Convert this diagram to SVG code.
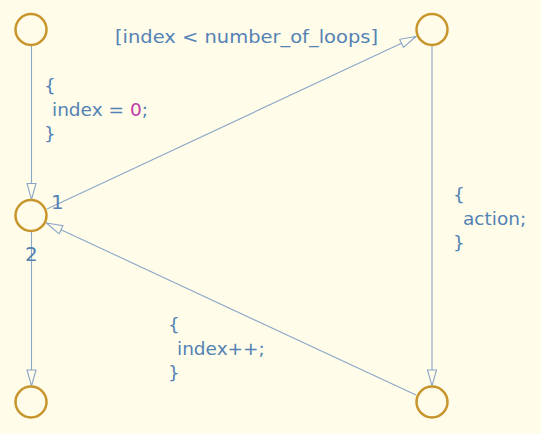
<svg xmlns="http://www.w3.org/2000/svg" width="541" height="434" viewBox="0 0 541 434">
<style>
.st{fill:#fffcea;stroke:#c8952c;stroke-width:2.5}
.cn{fill:none;stroke:#8aa6c8;stroke-width:1.1}
.t{font-family:"DejaVu Sans","Liberation Sans",sans-serif;font-size:18.5px;fill:#5382b4}
.n{fill:#c03aa6}
.lb{font-family:"DejaVu Sans","Liberation Sans",sans-serif;font-size:20px;fill:#5382b4}
</style>
<defs>
<marker id="ar" markerUnits="userSpaceOnUse" markerWidth="20" markerHeight="12" refX="17" refY="5" orient="auto" viewBox="0 0 20 12">
<path d="M1,0.5 L17,5 L1,9.5 Z" fill="#fffcea" stroke="#8aa6c8" stroke-width="1.1"/>
</marker>
</defs>
<rect x="0" y="0" width="541" height="434" fill="#fffcea"/>
<g id="connectors">
<line class="cn" x1="31.5" y1="45" x2="31.5" y2="199.5" marker-end="url(#ar)"/>
<line class="cn" x1="47" y1="209" x2="416" y2="36.5" marker-end="url(#ar)"/>
<line class="cn" x1="432" y1="45.5" x2="432" y2="386" marker-end="url(#ar)"/>
<line class="cn" x1="416" y1="395" x2="46.5" y2="223" marker-end="url(#ar)"/>
<line class="cn" x1="31.5" y1="231.5" x2="31.5" y2="386" marker-end="url(#ar)"/>
</g>
<g id="s_top_left"><circle class="st" cx="31" cy="29.5" r="15.5"/></g>
<g id="s_junction"><circle class="st" cx="31" cy="215.5" r="15.5"/></g>
<g id="s_bottom_left"><circle class="st" cx="31" cy="402" r="15.5"/></g>
<g id="s_top_right"><circle class="st" cx="432" cy="29.5" r="15.5"/></g>
<g id="s_bottom_right"><circle class="st" cx="432" cy="402" r="15.5"/></g>
<g id="labels">
<text class="t" x="115" y="43" textLength="263" lengthAdjust="spacingAndGlyphs">[index &lt; number_of_loops]</text>
<text class="t" x="44" y="92">{</text>
<text class="t" x="52" y="116">index = <tspan class="n">0</tspan>;</text>
<text class="t" x="44" y="140">}</text>
<text class="t" x="453" y="201">{</text>
<text class="t" x="463" y="225">action;</text>
<text class="t" x="453" y="249">}</text>
<text class="t" x="168" y="331">{</text>
<text class="t" x="177" y="355">index++;</text>
<text class="t" x="168" y="379">}</text>
<text class="lb" x="51" y="209">1</text>
<text class="lb" x="25" y="261">2</text>
</g>
</svg>
